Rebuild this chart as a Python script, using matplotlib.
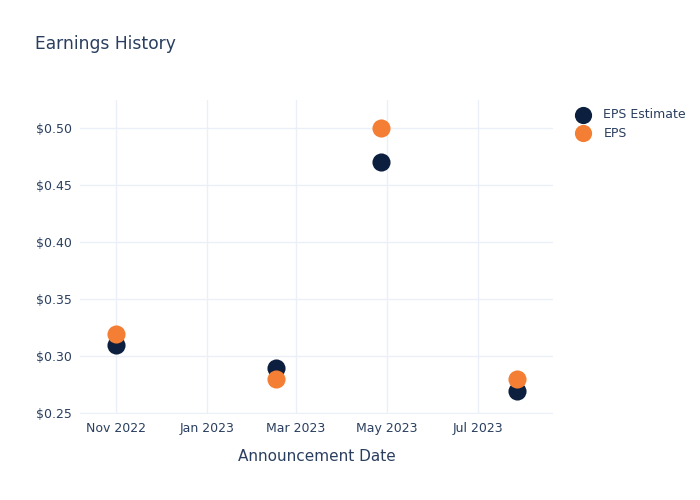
import matplotlib
matplotlib.use("Agg")
import matplotlib.pyplot as plt
import numpy as np

# data
dates = np.array(["2022-11-01", "2023-02-16", "2023-04-27", "2023-07-27"], dtype="datetime64[D]")
eps_estimate = [0.31, 0.29, 0.47, 0.27]
eps_actual = [0.32, 0.28, 0.50, 0.28]

x_ticks = np.array(["2022-11-01", "2023-01-01", "2023-03-01", "2023-05-01", "2023-07-01"], dtype="datetime64[D]")
x_tick_labels = ["Nov 2022", "Jan 2023", "Mar 2023", "May 2023", "Jul 2023"]
y_ticks = [0.25, 0.30, 0.35, 0.40, 0.45, 0.50]

TEXT = "#2a3f5f"
GRID = "#ebf0f8"
NAVY = "#0c1f3f"
ORANGE = "#f47e33"

plt.rcParams["font.family"] = ["DejaVu Sans"]

fig = plt.figure(figsize=(7, 5), dpi=100)
ax = fig.add_axes([80 / 700, 86 / 500, 473 / 700, 314 / 500])

ax.scatter(dates, eps_estimate, s=170, color=NAVY, label="EPS Estimate", zorder=3, linewidths=0)
ax.scatter(dates, eps_actual, s=170, color=ORANGE, label="EPS", zorder=4, linewidths=0)

ax.set_xlim(np.datetime64("2022-10-08"), np.datetime64("2023-08-20"))
ax.set_ylim(0.2495, 0.5245)
ax.set_xticks(x_ticks)
ax.set_xticklabels(x_tick_labels)
ax.set_yticks(y_ticks)
ax.set_yticklabels([f"${v:.2f}" for v in y_ticks])

ax.grid(True, color=GRID, linewidth=1)
ax.set_axisbelow(True)
for sp in ax.spines.values():
    sp.set_visible(False)
ax.tick_params(length=0, colors=TEXT, labelsize=9, pad=6)

ax.set_xlabel("Announcement Date", color=TEXT, fontsize=11, labelpad=10)
fig.text(35 / 700, 1 - 44 / 500, "Earnings History", color=TEXT, fontsize=12.3, va="center")

leg = ax.legend(loc="upper left", bbox_to_anchor=(1.027, 0.99), frameon=False,
                fontsize=9, labelcolor=TEXT, handletextpad=0.6, markerscale=0.95,
                borderaxespad=0, labelspacing=0.45)

fig.savefig("out.png", dpi=100)
